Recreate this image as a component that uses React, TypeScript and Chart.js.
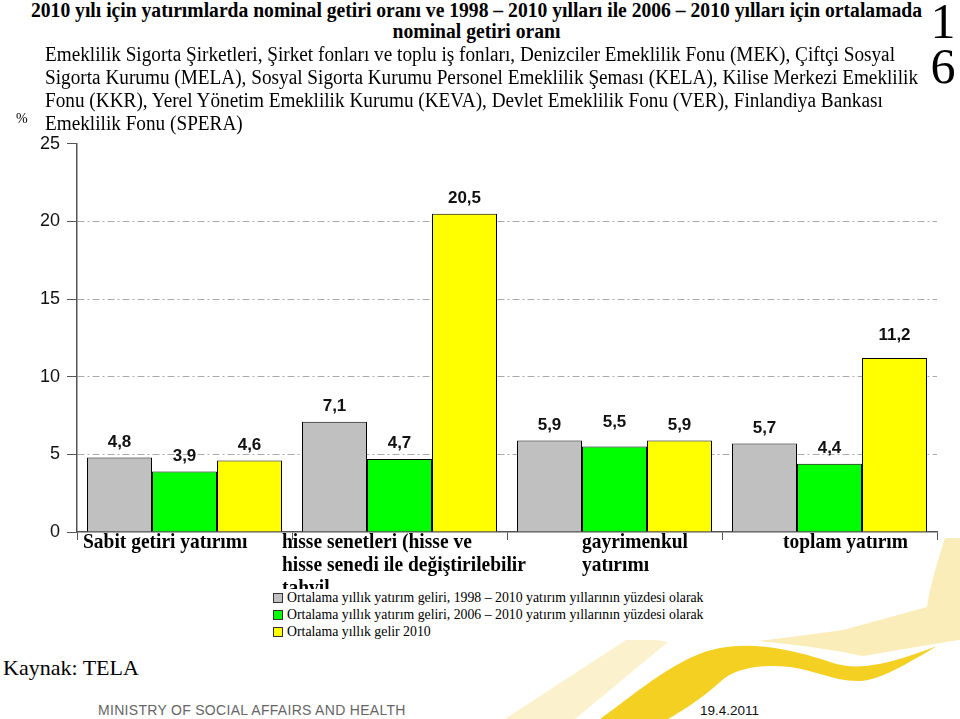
import React, { useEffect, useRef } from "react";
import { Chart, registerables } from "chart.js";

Chart.register(...registerables);

// ---------- data ----------
const categories: string[][] = [
  ["Sabit getiri yatırımı"],
  ["hisse senetleri (hisse ve", "hisse senedi ile değiştirilebilir", "tahvil"],
  ["gayrimenkul", "yatırımı"],
  ["toplam yatırım"],
];
const avg1998to2010 = [4.8, 7.1, 5.9, 5.7];
const avg2006to2010 = [3.9, 4.7, 5.5, 4.4];
const income2010 = [4.6, 20.5, 5.9, 11.2];
const seriesNames = [
  "Ortalama yıllık yatırım geliri, 1998 – 2010 yatırım yıllarının yüzdesi olarak",
  "Ortalama yıllık yatırım geliri, 2006 – 2010 yatırım yıllarının yüzdesi olarak",
  "Ortalama yıllık gelir 2010",
];
const yMin = 0;
const yMax = 25;
const yStep = 5;

const titleLines = [
  "2010 yılı için yatırımlarda nominal getiri oranı ve 1998 – 2010 yılları ile 2006 – 2010 yılları için ortalamada",
  "nominal getiri oranı",
];
const subtitleLines = [
  "Emeklilik Sigorta Şirketleri, Şirket fonları ve toplu iş fonları, Denizciler Emeklilik Fonu (MEK), Çiftçi Sosyal",
  "Sigorta Kurumu (MELA), Sosyal Sigorta Kurumu Personel Emeklilik Şeması (KELA), Kilise Merkezi Emeklilik",
  "Fonu (KKR), Yerel Yönetim Emeklilik Kurumu (KEVA), Devlet Emeklilik Fonu (VER), Finlandiya Bankası",
  "Emeklilik Fonu (SPERA)",
];

// ---------- styles ----------
const seriesColors = ["#C0C0C0", "#00FF00", "#FFFF00"];
const labelIndent = [6, -10, 75, 61]; // px offset of category label from category left edge
const labelLift = [
  [0, 0, 0, 0],
  [0, 0, 9, 0],
  [0, 0, 0, 7],
]; // extra px lift of individual value labels
const SERIF = '"Liberation Serif", "Times New Roman", serif';
const SANS = '"Liberation Sans", Arial, sans-serif';

let measureCtx: CanvasRenderingContext2D | null = null;
function textWidth(text: string, font: string): number {
  if (!measureCtx) measureCtx = document.createElement("canvas").getContext("2d");
  measureCtx!.font = font;
  return measureCtx!.measureText(text).width;
}

function FitLines(props: {
  lines: string[];
  size: number;
  weight: string;
  lineHeight: number;
  refIndex: number;
  refWidth: number;
  align: "left" | "center";
  style: React.CSSProperties;
}) {
  const { lines, size, weight, lineHeight, refIndex, refWidth, align, style } = props;
  const font = `${weight} ${size}px ${SERIF}`;
  const k = refWidth / textWidth(lines[refIndex], font);
  return (
    <div
      style={{
        position: "absolute",
        fontFamily: SERIF,
        fontSize: size,
        fontWeight: weight as any,
        lineHeight: `${lineHeight}px`,
        textAlign: align,
        color: "#000",
        ...style,
      }}
    >
      {lines.map((l, i) => (
        <div
          key={i}
          style={{
            whiteSpace: "nowrap",
            transform: `scaleX(${k})`,
            transformOrigin: align === "center" ? "center" : "left",
          }}
        >
          {l}
        </div>
      ))}
    </div>
  );
}

const valueLabelPlugin = {
  id: "valueLabels",
  afterDatasetsDraw(chart: any) {
    const ctx = chart.ctx;
    ctx.save();
    ctx.font = `bold 17px ${SANS}`;
    ctx.fillStyle = "#111";
    ctx.textAlign = "center";
    ctx.textBaseline = "bottom";
    chart.data.datasets.forEach((ds: any, di: number) => {
      const meta = chart.getDatasetMeta(di);
      meta.data.forEach((bar: any, i: number) => {
        const v = ds.data[i] as number;
        ctx.fillText(
          v.toFixed(1).replace(".", ","),
          bar.x,
          bar.y - 7 - labelLift[di][i]
        );
      });
    });
    ctx.restore();
  },
};

const categoryLabelPlugin = {
  id: "categoryLabels",
  afterDraw(chart: any) {
    const ctx = chart.ctx;
    const xs = chart.scales.x;
    const n = chart.data.labels.length;
    const w = (xs.right - xs.left) / n;
    ctx.save();
    ctx.font = `bold 22px ${SERIF}`;
    ctx.fillStyle = "#000";
    ctx.textAlign = "left";
    ctx.textBaseline = "alphabetic";
    (chart.data.labels as string[][]).forEach((lines, i) => {
      const left = xs.getPixelForValue(i) - w / 2 + labelIndent[i];
      lines.forEach((line, j) => {
        ctx.save();
        ctx.translate(left, xs.top + 16 + j * 23);
        ctx.scale(0.885, 1);
        ctx.fillText(line, 0, 0);
        ctx.restore();
      });
    });
    ctx.restore();
  },
};

function BarChart() {
  const ref = useRef<HTMLCanvasElement>(null);
  useEffect(() => {
    if (!ref.current) return;
    const data = [avg1998to2010, avg2006to2010, income2010];
    const chart = new Chart(ref.current, {
      type: "bar",
      data: {
        labels: categories as any,
        datasets: data.map((d, i) => ({
          label: seriesNames[i],
          data: d,
          backgroundColor: seriesColors[i],
          borderColor: "#000",
          borderWidth: 1,
          borderSkipped: "bottom",
          categoryPercentage: 0.907,
          barPercentage: 1.0,
        })),
      },
      options: {
        animation: false,
        responsive: true,
        maintainAspectRatio: false,
        layout: { padding: { top: 9, right: 23, left: 0, bottom: 0 } },
        plugins: {
          legend: { display: false },
          tooltip: { enabled: false },
        },
        scales: {
          x: {
            grid: {
              offset: true,
              drawOnChartArea: false,
              drawTicks: true,
              tickLength: 8,
              tickColor: "#555",
              tickWidth: 1,
            },
            border: { color: "#555", width: 1.5 },
            ticks: { display: false },
            afterFit: (s: any) => {
              s.height = 68;
            },
          },
          y: {
            min: yMin,
            max: yMax,
            ticks: {
              stepSize: yStep,
              padding: 7,
              color: "#111",
              font: { family: SANS, size: 18 },
            },
            grid: {
              color: (c: any) =>
                c.tick && (c.tick.value === yMin || c.tick.value === yMax)
                  ? "rgba(0,0,0,0)"
                  : "#aaaaaa",
              lineWidth: 1,
              tickLength: 10,
              tickColor: "#555",
              tickWidth: 1,
              tickBorderDash: [],
            },
            border: { color: "#555", width: 1.5, dash: [7, 3, 2, 3] },
            afterFit: (s: any) => {
              s.width = 77;
            },
          },
        },
      },
      plugins: [valueLabelPlugin, categoryLabelPlugin],
    });
    return () => chart.destroy();
  }, []);
  return (
    <div style={{ position: "absolute", left: 0, top: 126, width: 960, height: 474 }}>
      <canvas ref={ref} />
    </div>
  );
}

function Decor() {
  return (
    <svg
      width={960}
      height={719}
      style={{ position: "absolute", left: 0, top: 0 }}
      viewBox="0 0 960 719"
    >
      <path d="M505,719 L575,719 L668,642 L632,636 Z" fill="#FBF1CC" />
      <path
        d="M960,538 L945,538 C938,560 930,585 927,607 L843,630 C800,636 775,639 757,641 C800,645 835,650 863,656 C900,650 932,644 960,640 Z"
        fill="#FAEDBA"
      />
      <path
        d="M600,719 C640,690 680,655 720,648 C760,641 800,652 830,662 C860,673 895,662 937,646 C905,665 880,680 860,681 C835,682 815,670 790,667 C760,664 735,668 720,682 C700,700 680,712 668,719 Z"
        fill="#F4D023"
      />
    </svg>
  );
}

export default function App() {
  return (
    <div
      style={{
        position: "absolute",
        left: 0,
        top: 0,
        width: 960,
        height: 719,
        overflow: "hidden",
        background: "#fff",
      }}
    >
      <Decor />
      <BarChart />
      <FitLines
        lines={titleLines}
        size={20}
        weight="bold"
        lineHeight={21}
        refIndex={0}
        refWidth={891}
        align="center"
        style={{ left: 0, top: 0, width: 953 }}
      />
      <FitLines
        lines={subtitleLines}
        size={20}
        weight="normal"
        lineHeight={23}
        refIndex={1}
        refWidth={873}
        align="left"
        style={{ left: 45, top: 43 }}
      />
      <div
        style={{
          position: "absolute",
          left: 927,
          top: -1,
          width: 32,
          textAlign: "center",
          fontFamily: SERIF,
          fontSize: 50,
          lineHeight: "45px",
          color: "#000",
        }}
      >
        1<br />6
      </div>
      <div
        style={{
          position: "absolute",
          left: 16,
          top: 111,
          fontFamily: SERIF,
          fontSize: 14,
          lineHeight: "16px",
          color: "#000",
        }}
      >
        %
      </div>
      <div
        style={{
          position: "absolute",
          left: 273,
          top: 589,
          paddingRight: 10,
          background: "#fff",
          fontFamily: SERIF,
          fontSize: 13.8,
          lineHeight: "17px",
          color: "#000",
        }}
      >
        {seriesNames.map((n, i) => (
          <div key={i} style={{ display: "flex", alignItems: "center", whiteSpace: "nowrap" }}>
            <span
              style={{
                display: "inline-block",
                width: 8,
                height: 8,
                border: "1px solid #333",
                background: seriesColors[i],
                marginRight: 4,
              }}
            />
            {n}
          </div>
        ))}
      </div>
      <div
        style={{
          position: "absolute",
          left: 3,
          top: 655,
          fontFamily: SERIF,
          fontSize: 22,
          lineHeight: "26px",
          color: "#000",
        }}
      >
        Kaynak: TELA
      </div>
      <div
        style={{
          position: "absolute",
          left: 98,
          top: 702,
          fontFamily: SANS,
          fontSize: 14,
          lineHeight: "17px",
          color: "#666",
          letterSpacing: 0.3,
        }}
      >
        MINISTRY OF SOCIAL AFFAIRS AND HEALTH
      </div>
      <div
        style={{
          position: "absolute",
          left: 700,
          top: 703,
          fontFamily: SANS,
          fontSize: 13.5,
          lineHeight: "16px",
          color: "#111",
        }}
      >
        19.4.2011
      </div>
    </div>
  );
}
